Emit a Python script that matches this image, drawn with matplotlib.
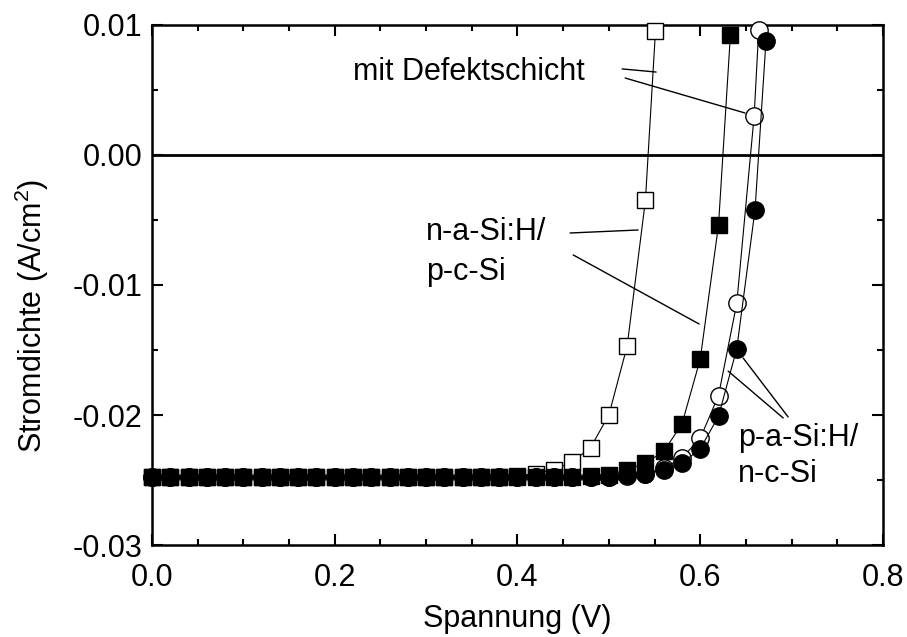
import matplotlib
matplotlib.use("Agg")
import matplotlib.pyplot as plt
from matplotlib.ticker import MultipleLocator, FormatStrFormatter

plt.rcParams['font.family'] = ['Liberation Sans', 'DejaVu Sans']
plt.rcParams['mathtext.fontset'] = 'custom'
plt.rcParams['mathtext.rm'] = 'Liberation Sans'
plt.rcParams['axes.unicode_minus'] = False

# n-a-Si:H/p-c-Si mit Defektschicht (offene Quadrate)
v_sq_open = [0.00, 0.02, 0.04, 0.06, 0.08, 0.10, 0.12, 0.14, 0.16, 0.18,
             0.20, 0.22, 0.24, 0.26, 0.28, 0.30, 0.32, 0.34, 0.36, 0.38,
             0.40, 0.42, 0.44, 0.46, 0.48, 0.50, 0.52, 0.54, 0.551]
j_sq_open = [-0.0248, -0.0248, -0.0248, -0.0248, -0.0248, -0.0248, -0.0248, -0.0248, -0.0248, -0.0248,
             -0.0248, -0.0248, -0.0248, -0.0248, -0.0248, -0.0248, -0.0248, -0.0248, -0.0248, -0.0248,
             -0.0247, -0.0245, -0.0242, -0.0236, -0.0225, -0.0200, -0.0147, -0.0035, 0.0095]

# n-a-Si:H/p-c-Si (gefuellte Quadrate)
v_sq_fill = [0.00, 0.02, 0.04, 0.06, 0.08, 0.10, 0.12, 0.14, 0.16, 0.18,
             0.20, 0.22, 0.24, 0.26, 0.28, 0.30, 0.32, 0.34, 0.36, 0.38,
             0.40, 0.42, 0.44, 0.46, 0.48, 0.50, 0.52, 0.54, 0.56, 0.58,
             0.60, 0.62, 0.633]
j_sq_fill = [-0.0248, -0.0248, -0.0248, -0.0248, -0.0248, -0.0248, -0.0248, -0.0248, -0.0248, -0.0248,
             -0.0248, -0.0248, -0.0248, -0.0248, -0.0248, -0.0248, -0.0248, -0.0248, -0.0248, -0.0248,
             -0.0248, -0.0248, -0.0248, -0.0248, -0.0247, -0.0246, -0.0242, -0.0237, -0.0228, -0.0207,
             -0.0157, -0.0054, 0.0092]

# p-a-Si:H/n-c-Si mit Defektschicht (offene Kreise)
v_ci_open = [0.00, 0.02, 0.04, 0.06, 0.08, 0.10, 0.12, 0.14, 0.16, 0.18,
             0.20, 0.22, 0.24, 0.26, 0.28, 0.30, 0.32, 0.34, 0.36, 0.38,
             0.40, 0.42, 0.44, 0.46, 0.48, 0.50, 0.52, 0.54, 0.56, 0.58,
             0.60, 0.62, 0.64, 0.659, 0.664]
j_ci_open = [-0.0248, -0.0248, -0.0248, -0.0248, -0.0248, -0.0248, -0.0248, -0.0248, -0.0248, -0.0248,
             -0.0248, -0.0248, -0.0248, -0.0248, -0.0248, -0.0248, -0.0248, -0.0248, -0.0248, -0.0248,
             -0.0248, -0.0248, -0.0248, -0.0248, -0.0248, -0.0248, -0.0247, -0.0245, -0.0241, -0.0233,
             -0.0218, -0.0185, -0.0114, 0.0030, 0.0096]

# p-a-Si:H/n-c-Si (gefuellte Kreise)
v_ci_fill = [0.00, 0.02, 0.04, 0.06, 0.08, 0.10, 0.12, 0.14, 0.16, 0.18,
             0.20, 0.22, 0.24, 0.26, 0.28, 0.30, 0.32, 0.34, 0.36, 0.38,
             0.40, 0.42, 0.44, 0.46, 0.48, 0.50, 0.52, 0.54, 0.56, 0.58,
             0.60, 0.62, 0.64, 0.66, 0.672]
j_ci_fill = [-0.0248, -0.0248, -0.0248, -0.0248, -0.0248, -0.0248, -0.0248, -0.0248, -0.0248, -0.0248,
             -0.0248, -0.0248, -0.0248, -0.0248, -0.0248, -0.0248, -0.0248, -0.0248, -0.0248, -0.0248,
             -0.0248, -0.0248, -0.0248, -0.0248, -0.0248, -0.0248, -0.0246, -0.0245, -0.0242, -0.0237,
             -0.0226, -0.0201, -0.0149, -0.0042, 0.0088]

fig = plt.figure(figsize=(9.07, 6.37), dpi=100)
ax = fig.add_axes([0.1676, 0.1444, 0.8059, 0.8164])

ax.axhline(0, color='black', lw=2.0, zorder=1)

style = dict(color='black', lw=0.8, mec='black', mew=1.0, clip_on=False)
ax.plot(v_sq_open, j_sq_open, marker='s', ms=11.5, mfc='white', zorder=3, **style)
ax.plot(v_sq_fill, j_sq_fill, marker='s', ms=11.5, mfc='black', zorder=4, **style)
ax.plot(v_ci_open, j_ci_open, marker='o', ms=12.5, mfc='white', zorder=5, **style)
ax.plot(v_ci_fill, j_ci_fill, marker='o', ms=12.5, mfc='black', zorder=6, **style)

# Beschriftungen mit Hinweislinien
fs = 22
line = dict(arrowstyle='-', color='black', lw=1.0, shrinkA=0, shrinkB=0)
ax.text(0.220, 0.0064, 'mit Defektschicht', fontsize=fs, va='center', ha='left')
ax.annotate('', xy=(0.5517, 0.00638), xytext=(0.5145, 0.00662), arrowprops=line)
ax.annotate('', xy=(0.649, 0.00323), xytext=(0.5178, 0.00592), arrowprops=line)

ax.text(0.300, -0.0059, 'n-a-Si:H/', fontsize=fs, va='center', ha='left')
ax.text(0.300, -0.0090, 'p-c-Si', fontsize=fs, va='center', ha='left')
ax.annotate('', xy=(0.532, -0.00577), xytext=(0.4576, -0.0060), arrowprops=line)
ax.annotate('', xy=(0.5988, -0.0130), xytext=(0.461, -0.00769), arrowprops=line)

ax.text(0.6415, -0.0218, 'p-a-Si:H/', fontsize=fs, va='center', ha='left')
ax.text(0.6415, -0.0245, 'n-c-Si', fontsize=fs, va='center', ha='left')
ax.annotate('', xy=(0.647, -0.01562), xytext=(0.6962, -0.02015), arrowprops=line)
ax.annotate('', xy=(0.6305, -0.01662), xytext=(0.6908, -0.02023), arrowprops=line)

ax.set_xlim(0, 0.8)
ax.set_ylim(-0.03, 0.01)
ax.xaxis.set_major_locator(MultipleLocator(0.2))
ax.xaxis.set_minor_locator(MultipleLocator(0.05))
ax.yaxis.set_major_locator(MultipleLocator(0.01))
ax.yaxis.set_minor_locator(MultipleLocator(0.005))
ax.xaxis.set_major_formatter(FormatStrFormatter('%.1f'))
ax.yaxis.set_major_formatter(FormatStrFormatter('%.2f'))
ax.tick_params(which='both', direction='in', top=True, right=True, width=1.5, labelsize=fs)
ax.tick_params(which='major', length=8)
ax.tick_params(which='minor', length=4)
ax.tick_params(axis='x', which='major', pad=13)
ax.tick_params(axis='y', which='major', pad=7)
for sp in ax.spines.values():
    sp.set_linewidth(1.8)

ax.set_xlabel('Spannung (V)', fontsize=fs, labelpad=8)
ax.set_ylabel('Stromdichte (A/cm$^2$)', fontsize=fs)
ax.yaxis.set_label_coords(-0.138, 0.44)

fig.savefig('out.png', dpi=100)
